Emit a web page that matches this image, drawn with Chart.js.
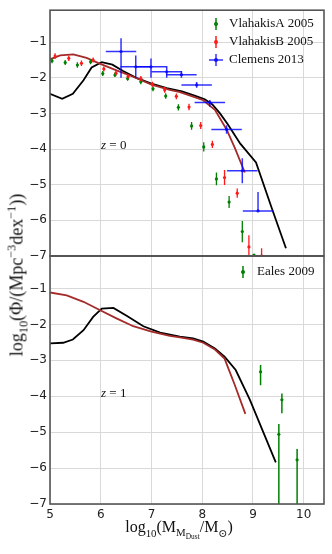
<!DOCTYPE html>
<html>
<head>
<meta charset="utf-8">
<script src="https://cdn.jsdelivr.net/npm/chart.js@4.4.1/dist/chart.umd.min.js"></script>
<style>
  html, body { margin: 0; padding: 0; background: #fff; }
  #wrap { position: relative; width: 332px; height: 554px; overflow: hidden; font-family: "Liberation Serif", "DejaVu Serif", serif; }
  #topCanvas { position: absolute; left: 0; top: 0; }
  #botCanvas { position: absolute; left: 0; top: 246px; }
  .lbl { position: absolute; white-space: nowrap; color: #111; z-index: 5; }
  .lbl sub, .lbl sup { font-size: 68%; line-height: 0; }
  #ytitle { font-size: 18px; left: 17px; top: 275px; transform: translate(-50%, -50%) rotate(-90deg); }
  #xtitle { font-size: 16px; left: 179px; top: 528px; transform: translate(-50%, -50%); }
  .zlab { font-size: 13px; left: 101px; transform: translateY(-50%); }
</style>
</head>
<body>
<div id="wrap">
  <canvas id="topCanvas" width="332" height="266"></canvas>
  <canvas id="botCanvas" width="332" height="308"></canvas>
  <div class="lbl" id="ytitle">log<sub>10</sub>(Φ/(Mpc<sup>−3</sup>dex<sup>−1</sup>))</div>
  <div class="lbl" id="xtitle">log<sub>10</sub>(M<sub>M<sub>Dust</sub></sub>/M<sub>⊙</sub>)</div>
  <div class="lbl zlab" style="top:145px"><i>z</i> = 0</div>
  <div class="lbl zlab" style="top:393px"><i>z</i> = 1</div>
</div>
<script>
// ---- data ----
const xTicks = [5, 6, 7, 8, 9, 10];
const yTicks = [-7, -6, -5, -4, -3, -2, -1];

// z = 0 model curves
const z0BlackX = [5.0, 5.24, 5.45, 5.66, 5.82, 6.02, 6.23, 6.44, 6.7, 7.0, 7.3, 7.6, 7.85, 8.05, 8.2, 8.35, 8.5, 8.75, 9.06, 9.38, 9.65];
const z0BlackY = [-2.45, -2.59, -2.45, -2.07, -1.71, -1.56, -1.63, -1.81, -2.0, -2.16, -2.29, -2.38, -2.5, -2.6, -2.75, -3.0, -3.3, -3.85, -4.38, -5.7, -6.79];
const z0RedX = [5.0, 5.2, 5.46, 5.72, 5.98, 6.31, 6.64, 7.0, 7.36, 7.56, 7.82, 8.02, 8.25, 8.48, 8.64, 8.84];
const z0RedY = [-1.48, -1.37, -1.34, -1.44, -1.6, -1.79, -1.97, -2.19, -2.34, -2.4, -2.53, -2.63, -2.9, -3.45, -3.96, -4.66];

// z = 1 model curves
const z1BlackX = [5.0, 5.26, 5.45, 5.66, 5.85, 6.02, 6.25, 6.51, 6.84, 7.17, 7.56, 7.82, 8.02, 8.25, 8.44, 8.66, 8.94, 9.45];
const z1BlackY = [-2.53, -2.51, -2.42, -2.16, -1.79, -1.56, -1.54, -1.76, -2.05, -2.23, -2.34, -2.39, -2.48, -2.67, -2.9, -3.27, -4.1, -5.84];
const z1RedX = [5.0, 5.33, 5.66, 5.98, 6.31, 6.64, 7.0, 7.36, 7.56, 7.82, 8.02, 8.25, 8.44, 8.64, 8.85];
const z1RedY = [-1.11, -1.19, -1.37, -1.6, -1.83, -2.05, -2.2, -2.32, -2.36, -2.42, -2.51, -2.7, -2.95, -3.68, -4.49];

// VlahakisA 2005
const vlaAX = [5.04, 5.30, 5.54, 5.80, 6.04, 6.28, 6.53, 6.79, 7.03, 7.28, 7.53, 7.79, 8.03, 8.28, 8.53, 8.79, 9.02];
const vlaAY = [-1.52, -1.57, -1.64, -1.55, -1.88, -1.92, -2.02, -2.11, -2.31, -2.51, -2.83, -3.35, -3.94, -4.84, -5.49, -6.32, -6.98];
const vlaAErr = [0.07, 0.07, 0.08, 0.07, 0.07, 0.06, 0.06, 0.07, 0.07, 0.08, 0.09, 0.11, 0.13, 0.18, 0.17, 0.3, 0.03];

// VlahakisB 2005
const vlaBX = [5.10, 5.37, 5.62, 5.85, 6.06, 6.30, 6.54, 6.79, 7.02, 7.26, 7.49, 7.74, 7.97, 8.20, 8.44, 8.69, 8.92, 9.17];
const vlaBY = [-1.39, -1.45, -1.59, -1.50, -1.75, -1.87, -1.96, -2.02, -2.18, -2.34, -2.52, -2.82, -3.34, -3.87, -4.80, -5.24, -6.75, -7.0];
const vlaBErr = [0.08, 0.08, 0.08, 0.07, 0.07, 0.06, 0.06, 0.07, 0.07, 0.08, 0.08, 0.09, 0.1, 0.1, 0.21, 0.13, 0.33, 0.21];

// Clemens 2013
const clemX = [6.40, 6.69, 6.99, 7.30, 7.59, 7.89, 8.15, 8.48, 8.79, 9.10];
const clemY = [-1.26, -1.69, -1.69, -1.83, -1.91, -2.20, -2.69, -3.45, -4.61, -5.74];
const clemXErr = [0.3, 0.3, 0.3, 0.3, 0.3, 0.3, 0.3, 0.3, 0.3, 0.3];
const clemYUp = [0.37, 0.32, 0.23, 0.16, 0.10, 0.08, 0.07, 0.12, 0.35, 0.53];
const clemYDown = [0.74, 0.31, 0.31, 0.17, 0.09, 0.08, 0.12, 0.12, 0.35, 0.0];

// Eales 2009 (z = 1)
const ealesX = [9.15, 9.57, 9.51, 9.87];
const ealesY = [-3.32, -4.10, -5.06, -5.77];
const ealesUp = [0.19, 0.18, 0.29, 0.30];
const ealesDown = [0.37, 0.37, 3.0, 3.0];

const GREEN = '#008000';
const RED = '#ff1a1a';
const BLUE = 'rgba(0, 0, 255, 0.8)';
const BROWN = '#a52a2a';
const GRID = '#d9d9d9';

const pts = (xs, ys) => xs.map((x, i) => ({x: x, y: ys[i]}));
const minus = v => (v < 0 ? '\u2212' + Math.abs(v) : '' + v);

const errorBars = {
    id: 'errorBars',
    afterDatasetsDraw(chart, args, opts) {
        const {ctx, chartArea} = chart;
        const xs = chart.scales.x, ys = chart.scales.y;
        ctx.save();
        ctx.beginPath();
        ctx.rect(chartArea.left, chartArea.top, chartArea.width, chartArea.height);
        ctx.clip();
        (opts.sets || []).forEach(s => {
            ctx.strokeStyle = s.color;
            ctx.lineWidth = s.width;
            s.x.forEach((xv, i) => {
                const px = xs.getPixelForValue(xv);
                const py = ys.getPixelForValue(s.y[i]);
                ctx.beginPath();
                ctx.moveTo(px, ys.getPixelForValue(s.y[i] + s.up[i]));
                ctx.lineTo(px, ys.getPixelForValue(s.y[i] - s.down[i]));
                if (s.xerr) {
                    ctx.moveTo(xs.getPixelForValue(xv - s.xerr[i]), py);
                    ctx.lineTo(xs.getPixelForValue(xv + s.xerr[i]), py);
                }
                ctx.stroke();
            });
        });
        ctx.restore();
    }
};

// frame around the plot + errorbar legend
const frameLegend = {
    id: 'frameLegend',
    afterDraw(chart, args, opts) {
        const {ctx, chartArea} = chart;
        ctx.save();
        ctx.strokeStyle = '#555';
        ctx.lineWidth = 1.6;
        ctx.strokeRect(chartArea.left, chartArea.top, chartArea.width, chartArea.height);
        ctx.font = '13px "Liberation Serif", serif';
        ctx.textBaseline = 'middle';
        (opts.items || []).forEach(it => {
            ctx.strokeStyle = it.color;
            ctx.fillStyle = it.color;
            ctx.lineWidth = 1.5;
            ctx.beginPath();
            ctx.moveTo(it.mx, it.y - 6);
            ctx.lineTo(it.mx, it.y + 6);
            if (it.xbar) {
                ctx.moveTo(it.mx - 7, it.y);
                ctx.lineTo(it.mx + 7, it.y);
            }
            ctx.stroke();
            ctx.beginPath();
            ctx.arc(it.mx, it.y, 2, 0, Math.PI * 2);
            ctx.fill();
            ctx.fillStyle = '#111';
            ctx.fillText(it.text, it.tx, it.y);
        });
        ctx.restore();
    }
};

function yScale() {
    return {
        min: -7, max: -0.1,
        afterBuildTicks: axis => { axis.ticks = yTicks.map(v => ({value: v})); },
        afterFit: scale => { scale.width = 50; },
        grid: {color: GRID, lineWidth: 1, drawTicks: false},
        border: {display: false},
        ticks: {
            padding: 3,
            color: '#222',
            font: {family: 'DejaVu Sans', size: 12},
            callback: v => minus(v)
        }
    };
}

function xScale(showLabels) {
    return {
        type: 'linear',
        min: 5, max: 10.4,
        afterBuildTicks: axis => { axis.ticks = xTicks.map(v => ({value: v})); },
        afterFit: scale => { scale.height = showLabels ? 50 : 0; },
        grid: {color: GRID, lineWidth: 1, drawTicks: false},
        border: {display: false},
        ticks: {
            display: showLabels,
            padding: 4,
            maxRotation: 0,
            color: '#222',
            font: {family: 'DejaVu Sans', size: 12},
            callback: v => minus(v)
        }
    };
}

const lineDs = (xs, ys, color) => ({
    type: 'line', data: pts(xs, ys), borderColor: color, borderWidth: 1.8,
    pointRadius: 0, fill: false, tension: 0
});
const dotDs = (xs, ys, color) => ({
    type: 'scatter', data: pts(xs, ys), backgroundColor: color, borderWidth: 0, pointRadius: 1.6
});

new Chart(document.getElementById('topCanvas'), {
    type: 'scatter',
    data: {
        datasets: [
            dotDs(clemX, clemY, BLUE),
            dotDs(vlaBX, vlaBY, RED),
            dotDs(vlaAX, vlaAY, GREEN),
            lineDs(z0RedX, z0RedY, BROWN),
            lineDs(z0BlackX, z0BlackY, '#000')
        ]
    },
    options: {
        responsive: false,
        animation: false,
        layout: {padding: {left: 0, right: 8, top: 8, bottom: 10}},
        scales: {x: xScale(false), y: yScale()},
        plugins: {
            legend: {display: false},
            tooltip: {enabled: false},
            errorBars: {
                sets: [
                    {x: vlaAX, y: vlaAY, up: vlaAErr, down: vlaAErr, color: GREEN, width: 1.3},
                    {x: vlaBX, y: vlaBY, up: vlaBErr, down: vlaBErr, color: RED, width: 1.3},
                    {x: clemX, y: clemY, up: clemYUp, down: clemYDown, xerr: clemXErr, color: BLUE, width: 1.5}
                ]
            },
            frameLegend: {
                items: [
                    {text: 'VlahakisA 2005', color: GREEN, mx: 216, tx: 229, y: 24},
                    {text: 'VlahakisB 2005', color: RED, mx: 216, tx: 229, y: 42},
                    {text: 'Clemens 2013', color: BLUE, mx: 216, tx: 229, y: 60, xbar: true}
                ]
            }
        }
    },
    plugins: [errorBars, frameLegend]
});

new Chart(document.getElementById('botCanvas'), {
    type: 'scatter',
    data: {
        datasets: [
            dotDs(ealesX, ealesY, GREEN),
            lineDs(z1RedX, z1RedY, BROWN),
            lineDs(z1BlackX, z1BlackY, '#000')
        ]
    },
    options: {
        responsive: false,
        animation: false,
        layout: {padding: {left: 0, right: 8, top: 10, bottom: 0}},
        scales: {x: xScale(true), y: yScale()},
        plugins: {
            legend: {display: false},
            tooltip: {enabled: false},
            errorBars: {
                sets: [
                    {x: ealesX, y: ealesY, up: ealesUp, down: ealesDown, color: GREEN, width: 1.5}
                ]
            },
            frameLegend: {
                items: [
                    {text: 'Eales 2009', color: GREEN, mx: 243, tx: 257, y: 26}
                ]
            }
        }
    },
    plugins: [errorBars, frameLegend]
});
</script>
</body>
</html>
